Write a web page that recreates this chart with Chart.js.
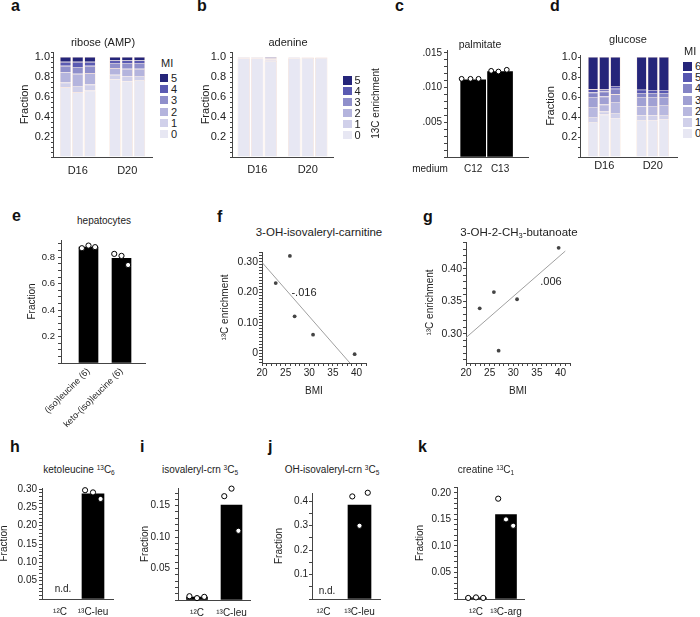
<!DOCTYPE html>
<html lang="en">
<head>
  <meta charset="UTF-8" />
  <title>Isotope labelling panels</title>
  <script src="https://cdn.jsdelivr.net/npm/chart.js"></script>
  <style>
    body { margin: 0; background: #fff; font-family: "Liberation Sans", Arial, sans-serif; color: #222; }
    #fig { position: relative; width: 700px; height: 617px; overflow: hidden; }
    .panel { position: absolute; z-index: 1; }
    .L { position: absolute; z-index: 2; color: #111; font-weight: bold; font-size: 16px; line-height: 16px; }
    .t { position: absolute; z-index: 2; color: #222; transform: translate(-50%, -50%); white-space: nowrap; line-height: 1; }
    .sw { position: absolute; z-index: 2; }
    .lg { position: absolute; z-index: 2; color: #222; line-height: 1; }
    sup { font-size: .65em; vertical-align: .5em; line-height: 0; }
    sub { font-size: .65em; vertical-align: -.25em; line-height: 0; }
  </style>
</head>

<body>
  <div id="fig">
    <!-- panel letters -->
    <div class="L" style="left:11px;top:-2px">a</div>
    <div class="L" style="left:197px;top:-2px">b</div>
    <div class="L" style="left:395px;top:-2px">c</div>
    <div class="L" style="left:550px;top:-2px">d</div>
    <div class="L" style="left:12px;top:208px">e</div>
    <div class="L" style="left:217px;top:209px">f</div>
    <div class="L" style="left:423px;top:209px">g</div>
    <div class="L" style="left:10px;top:439px">h</div>
    <div class="L" style="left:140px;top:439px">i</div>
    <div class="L" style="left:268px;top:439px">j</div>
    <div class="L" style="left:418px;top:439px">k</div>

    <!-- titles -->
    <div class="t" style="left:103px;top:42px;font-size:11px">ribose (AMP)</div>
    <div class="t" style="left:288px;top:42px;font-size:11px">adenine</div>
    <div class="t" style="left:480px;top:44px;font-size:10.5px">palmitate</div>
    <div class="t" style="left:628px;top:39px;font-size:11px">glucose</div>
    <div class="t" style="left:104px;top:221px;font-size:10px">hepatocytes</div>
    <div class="t" style="left:319px;top:233px;font-size:11.5px">3-OH-isovaleryl-carnitine</div>
    <div class="t" style="left:519px;top:233px;font-size:11.5px">3-OH-2-CH<sub>3</sub>-butanoate</div>
    <div class="t" style="left:79px;top:470px;font-size:10px">ketoleucine <sup>13</sup>C<sub>6</sub></div>
    <div class="t" style="left:200px;top:470px;font-size:10px">isovaleryl-crn <sup>3</sup>C<sub>5</sub></div>
    <div class="t" style="left:332px;top:470px;font-size:10px">OH-isovaleryl-crn <sup>3</sup>C<sub>5</sub></div>
    <div class="t" style="left:486px;top:470px;font-size:10px">creatine <sup>13</sup>C<sub>1</sub></div>

    <!-- annotations -->
    <div class="t" style="left:430px;top:169px;font-size:10px">medium</div>
    <div class="t" style="left:304px;top:292px;font-size:11px">-.016</div>
    <div class="t" style="left:551px;top:281px;font-size:11px">.006</div>
    <div class="t" style="left:63px;top:589px;font-size:10px">n.d.</div>
    <div class="t" style="left:327px;top:591px;font-size:10px">n.d.</div>
  </div>

  <script>
    // ---------- data ----------
    const conditions = ['D16', 'D20'];

    // a: ribose (AMP), mass isotopomers 0..5, three replicates per condition
    const riboseMI = ['0', '1', '2', '3', '4', '5'];
    const riboseD16 = [
      [0.697, 0.047, 0.101, 0.067, 0.040, 0.048],
      [0.647, 0.063, 0.122, 0.068, 0.052, 0.048],
      [0.664, 0.060, 0.115, 0.073, 0.040, 0.048]
    ];
    const riboseD20 = [
      [0.778, 0.044, 0.067, 0.051, 0.026, 0.034],
      [0.758, 0.047, 0.077, 0.058, 0.026, 0.034],
      [0.771, 0.040, 0.071, 0.058, 0.026, 0.034]
    ];

    // b: adenine
    const adenineD16 = [
      [0.985, 0.006, 0.004, 0.002, 0.002, 0.001],
      [0.986, 0.005, 0.004, 0.002, 0.002, 0.001],
      [0.962, 0.012, 0.008, 0.008, 0.006, 0.004]
    ];
    const adenineD20 = [
      [0.988, 0.005, 0.003, 0.002, 0.001, 0.001],
      [0.992, 0.003, 0.002, 0.001, 0.001, 0.001],
      [0.992, 0.003, 0.002, 0.001, 0.001, 0.001]
    ];

    // d: glucose, mass isotopomers 0..6
    const glucoseMI = ['0', '1', '2', '3', '4', '5', '6'];
    const glucoseD16 = [
      [0.350, 0.050, 0.100, 0.100, 0.044, 0.033, 0.323],
      [0.424, 0.030, 0.070, 0.080, 0.050, 0.020, 0.326],
      [0.385, 0.055, 0.110, 0.077, 0.056, 0.027, 0.290]
    ];
    const glucoseD20 = [
      [0.370, 0.045, 0.090, 0.095, 0.040, 0.033, 0.327],
      [0.365, 0.050, 0.095, 0.090, 0.040, 0.030, 0.330],
      [0.375, 0.045, 0.100, 0.080, 0.040, 0.030, 0.330]
    ];

    // c: palmitate
    const palmitateMedium = ['C12', 'C13'];
    const palmitateMean = [0.0111, 0.0123];
    const palmitateReps = [[0.01125, 0.01125, 0.01125], [0.0124, 0.0123, 0.01255]];

    // e: hepatocytes
    const hepTracers = ['(iso)leucine (6)', 'keto-(iso)leucine (6)'];
    const hepMean = [0.876, 0.792];
    const hepReps = [[0.868, 0.888, 0.876], [0.825, 0.810, 0.741]];

    // f, g: enrichment vs BMI
    const bmi = [22.9, 25.9, 26.9, 30.8, 39.6];
    const ohIsovalerylEnr = [0.230, 0.319, 0.121, 0.061, -0.003];
    const ohIsovalerylFitBmi = [20, 38.6];
    const ohIsovalerylFitEnr = [0.298, -0.032];
    const ohMethylButEnr = [0.339, 0.364, 0.274, 0.353, 0.432];
    const ohMethylButFitBmi = [20, 41];
    const ohMethylButFitEnr = [0.294, 0.427];

    // h-k: tracer experiments
    const leuTracers = ['¹²C', '¹³C-leu'];
    const argTracers = ['¹²C', '¹³C-arg'];
    const ketoleucineMean = [null, 0.287];
    const ketoleucineReps = [[], [0.297, 0.291, 0.273]];
    const isovalerylMean = [0.0047, 0.151];
    const isovalerylReps = [[0.006, 0.003, 0.005], [0.165, 0.177, 0.110]];
    const ohIsovalMean = [null, 0.385];
    const ohIsovalReps = [[], [0.420, 0.435, 0.300]];
    const creatineMean = [0.0023, 0.159];
    const creatineReps = [[0.002, 0.003, 0.002], [0.189, 0.150, 0.138]];

    // ---------- styling ----------
    const AXIS = '#444';
    const TXT = '#222';
    const blues6 = ['#e7e7f3', '#d0d0ea', '#b4b4dd', '#8f8fcb', '#5a5ab2', '#25257a'];
    const blues7 = ['#e7e7f3', '#d0d0ea', '#b8b8df', '#a0a0d3', '#8484c5', '#5656b0', '#25257a'];

    Chart.defaults.font.family = '"Liberation Sans", Arial, sans-serif';
    Chart.defaults.color = TXT;
    Chart.defaults.plugins.legend.display = false;
    Chart.defaults.plugins.tooltip.enabled = false;

    const fig = document.getElementById('fig');

    // box = [left, top, plotLeft, plotTop, plotRight, plotBottom, right, bottom]
    function makeChart(box, config) {
      const [left, top, x0, y0, x1, y1, right, bottom] = box;
      const div = document.createElement('div');
      div.className = 'panel';
      div.style.left = left + 'px';
      div.style.top = top + 'px';
      div.style.width = (right - left) + 'px';
      div.style.height = (bottom - top) + 'px';
      const cv = document.createElement('canvas');
      div.appendChild(cv);
      fig.appendChild(div);
      Object.assign(config.options, {
        responsive: true, maintainAspectRatio: false, animation: false,
        layout: { padding: { left: 0, top: y0 - top, right: right - x1, bottom: 0 } }
      });
      config.options.scales.x.afterFit = s => { s.height = bottom - y1; };
      config.options.scales.y.afterFit = s => { s.width = x0 - left; };
      return new Chart(cv, config);
    }

    function isMajor(v, every) {
      return Math.abs(v / every - Math.round(v / every)) < 1e-6;
    }

    function yLin(o) {
      return {
        type: 'linear', min: o.min, max: o.max,
        border: { color: AXIS, width: 1 },
        grid: { drawOnChartArea: false, drawTicks: true, tickLength: o.tl || 3, color: AXIS },
        ticks: {
          stepSize: o.step, maxTicksLimit: 1000, includeBounds: false, autoSkip: false,
          padding: o.pad, font: { size: o.size }, color: TXT,
          callback: v => (isMajor(v, o.every) && (o.zero ? v > -1e-9 : v > 1e-9)) ? o.fmt(v) : ''
        },
        title: { display: true, text: o.title, font: { size: o.titleSize || 10 }, color: TXT, padding: { top: 4, bottom: 4 } }
      };
    }

    function xCats(o) {
      return {
        type: 'linear', min: o.min, max: o.max, offset: false,
        border: { color: AXIS, width: 1 },
        grid: { display: false, drawTicks: false, offset: false },
        afterBuildTicks: s => { s.ticks = o.labels.map((_, i) => ({ value: i + 1 })); },
        ticks: {
          autoSkip: false, padding: o.pad, font: { size: o.size }, color: TXT,
          maxRotation: o.rot || 0, minRotation: o.rot || 0,
          callback: (v, i) => o.labels[i]
        }
      };
    }

    function stackedPanel(box, o) {
      const datasets = [];
      for (let r = 0; r < 3; r++) {
        o.labels.forEach((lab, m) => {
          datasets.push({
            label: lab,
            data: [o.d16[r][m], o.d20[r][m]],
            backgroundColor: o.colors[m],
            borderColor: 'rgba(236,190,165,0.55)',
            borderWidth: 0.6,
            stack: 'rep' + r,
            barPercentage: 0.92,
            categoryPercentage: o.catPct
          });
        });
      }
      return makeChart(box, {
        type: 'bar',
        data: { labels: conditions, datasets },
        options: {
          scales: {
            x: {
              type: 'category', stacked: true, offset: true,
              border: { color: AXIS, width: 1 },
              grid: { display: false, drawTicks: false },
              ticks: { padding: o.xPad, font: { size: 11 }, color: TXT }
            },
            y: Object.assign(yLin({
              min: 0, max: o.max, step: o.step, every: 0.2, pad: o.yPad, tl: 2, size: 11,
              fmt: v => v.toFixed(1), title: 'Fraction', titleSize: 11
            }), { stacked: true })
          }
        }
      });
    }

    function legend(x, y, labels, colors, gap, size, title) {
      if (title) {
        const t = document.createElement('div');
        t.className = 'lg';
        t.style.left = (x + 1) + 'px';
        t.style.top = (y - gap - 5) + 'px';
        t.style.fontSize = '11px';
        t.textContent = title;
        fig.appendChild(t);
      }
      for (let k = 0; k < labels.length; k++) {
        const i = labels.length - 1 - k;
        const sw = document.createElement('div');
        sw.className = 'sw';
        sw.style.left = x + 'px';
        sw.style.top = (y + k * gap) + 'px';
        sw.style.width = size + 'px';
        sw.style.height = size + 'px';
        sw.style.background = colors[i];
        fig.appendChild(sw);
        const lb = document.createElement('div');
        lb.className = 'lg';
        lb.style.left = (x + size + 3) + 'px';
        lb.style.top = (y + k * gap - 1) + 'px';
        lb.style.fontSize = '11px';
        lb.textContent = labels[i];
        fig.appendChild(lb);
      }
    }

    function dotBarPanel(box, o) {
      const pts = [];
      o.reps.forEach((rep, i) => rep.forEach((v, j) => pts.push({ x: i + 1 + o.jitter[i][j], y: v })));
      return makeChart(box, {
        type: 'bar',
        data: {
          datasets: [
            {
              type: 'scatter', data: pts, order: 0, pointStyle: 'circle', clip: false,
              pointRadius: o.r || 2.6, pointBackgroundColor: '#fff', pointBorderColor: '#000', pointBorderWidth: 1
            },
            {
              type: 'bar', data: o.mean.map((v, i) => ({ x: i + 1, y: v })), order: 1,
              backgroundColor: '#000', barThickness: o.barW
            }
          ]
        },
        options: { scales: { x: xCats(o.x), y: yLin(o.y) } }
      });
    }

    function bmiPanel(box, o) {
      return makeChart(box, {
        type: 'scatter',
        data: {
          datasets: [
            {
              data: bmi.map((b, i) => ({ x: b, y: o.enr[i] })), clip: false,
              pointRadius: 1.9, pointBackgroundColor: '#444', pointBorderWidth: 0
            },
            {
              type: 'line', data: o.fitX.map((b, i) => ({ x: b, y: o.fitY[i] })),
              borderColor: '#a0a0a0', borderWidth: 1, pointRadius: 0, fill: false
            }
          ]
        },
        options: {
          scales: {
            x: {
              type: 'linear', min: 20, max: 42,
              border: { color: AXIS, width: 1 },
              grid: { drawOnChartArea: false, drawTicks: true, tickLength: 3, color: AXIS },
              ticks: {
                stepSize: 1, maxTicksLimit: 1000, includeBounds: false, autoSkip: false, maxRotation: 0,
                padding: 1, font: { size: 10 }, color: TXT,
                callback: v => (isMajor(v, 5) && v <= 40) ? String(v) : ''
              },
              title: { display: true, text: 'BMI', font: { size: 10 }, color: TXT, padding: { top: 4, bottom: 4 } }
            },
            y: yLin(o.y)
          }
        }
      });
    }

    // ---------- panels ----------
    // a
    stackedPanel([14, 38, 53, 52, 152, 157, 158, 185], {
      d16: riboseD16, d20: riboseD20, labels: riboseMI, colors: blues6,
      catPct: 0.74, max: 1.05, step: 0.05, xPad: 7, yPad: 1
    });
    legend(160, 74, riboseMI, blues6, 11.2, 8, 'MI');

    // b
    stackedPanel([195, 38, 232, 52, 333, 157, 339, 185], {
      d16: adenineD16, d20: adenineD20, labels: riboseMI, colors: blues6,
      catPct: 0.8, max: 1.05, step: 0.05, xPad: 6, yPad: 4
    });
    legend(343, 76, riboseMI, blues6, 10.9, 8.5, null);

    // d
    stackedPanel([540, 42, 580, 55, 677, 157, 683, 185], {
      d16: glucoseD16, d20: glucoseD20, labels: glucoseMI, colors: blues7,
      catPct: 0.69, max: 1.02, step: 0.1, xPad: 2, yPad: 1
    });
    legend(683, 62, glucoseMI, blues7, 11.2, 9, 'MI');

    // c
    dotBarPanel([366, 36, 447, 50, 528, 157, 534, 185], {
      mean: palmitateMean, reps: palmitateReps, barW: 25, r: 2.4,
      jitter: [[-0.43, -0.1, 0.2], [-0.33, -0.06, 0.25]],
      x: { labels: palmitateMedium, min: 0.026, max: 3.04, pad: 6, size: 10 },
      y: {
        min: 0, max: 0.0154, step: 0.001, every: 0.005, pad: 2, size: 10,
        fmt: v => v.toFixed(3).replace(/^0/, ''), title: '13C enrichment', titleSize: 10
      }
    });

    // e
    dotBarPanel([22, 228, 61, 240, 145, 363, 151, 432], {
      mean: hepMean, reps: hepReps, barW: 19, r: 2.6,
      jitter: [[-0.2, 0, 0.2], [-0.22, 0, 0.2]],
      x: { labels: hepTracers, min: 0.167, max: 2.712, pad: 3, size: 9, rot: 45 },
      y: {
        min: 0, max: 0.93, step: 0.05, every: 0.2, pad: 3, size: 9.5,
        fmt: v => v.toFixed(1), title: 'Fraction', titleSize: 10
      }
    });

    // f
    bmiPanel([215, 240, 262, 252, 366, 363, 376, 401], {
      enr: ohIsovalerylEnr, fitX: ohIsovalerylFitBmi, fitY: ohIsovalerylFitEnr,
      y: {
        min: -0.032, max: 0.332, step: 0.01, every: 0.1, pad: 1, size: 10.5, zero: true,
        fmt: v => Math.abs(v) < 1e-9 ? '0' : v.toFixed(2), title: '¹³C enrichment', titleSize: 10
      }
    });

    // g
    bmiPanel([420, 230, 466, 242, 570, 363, 580, 401], {
      enr: ohMethylButEnr, fitX: ohMethylButFitBmi, fitY: ohMethylButFitEnr,
      y: {
        min: 0.255, max: 0.441, step: 0.01, every: 0.05, pad: 1, size: 10.5,
        fmt: v => v.toFixed(2), title: '¹³C enrichment', titleSize: 10
      }
    });

    // h
    dotBarPanel([-6, 476, 42, 488, 113, 599, 121, 624], {
      mean: ketoleucineMean, reps: ketoleucineReps, barW: 22,
      jitter: [[], [-0.24, 0, 0.23]],
      x: { labels: leuTracers, min: 0.455, max: 2.606, pad: 7, size: 10 },
      y: {
        min: 0, max: 0.303, step: 0.01, every: 0.05, pad: 2, size: 10,
        fmt: v => v.toFixed(2), title: 'Fraction', titleSize: 10
      }
    });

    // i
    dotBarPanel([135, 476, 178, 488, 250, 600, 258, 624], {
      mean: isovalerylMean, reps: isovalerylReps, barW: 21,
      jitter: [[-0.22, 0, 0.21], [-0.21, 0, 0.2]],
      x: { labels: leuTracers, min: 0.449, max: 2.536, pad: 7, size: 10 },
      y: {
        min: 0, max: 0.178, step: 0.01, every: 0.05, pad: 5, size: 10,
        fmt: v => v.toFixed(2), title: 'Fraction', titleSize: 10
      }
    });

    // j
    dotBarPanel([269, 480, 312, 493, 380, 599, 388, 624], {
      mean: ohIsovalMean, reps: ohIsovalReps, barW: 23,
      jitter: [[], [-0.2, 0.23, 0]],
      x: { labels: leuTracers, min: 0.68, max: 2.57, pad: 7, size: 10 },
      y: {
        min: 0, max: 0.434, step: 0.05, every: 0.1, pad: 1, size: 10,
        fmt: v => v.toFixed(1), title: 'Fraction', titleSize: 10
      }
    });

    // k
    dotBarPanel([410, 474, 457, 487, 524, 599, 532, 624], {
      mean: creatineMean, reps: creatineReps, barW: 21,
      jitter: [[-0.26, 0, 0.24], [-0.26, 0, 0.24]],
      x: { labels: argTracers, min: 0.367, max: 2.6, pad: 7, size: 10 },
      y: {
        min: 0, max: 0.211, step: 0.01, every: 0.05, pad: 3, size: 10,
        fmt: v => v.toFixed(2), title: 'Fraction', titleSize: 10
      }
    });
  </script>
</body>

</html>
